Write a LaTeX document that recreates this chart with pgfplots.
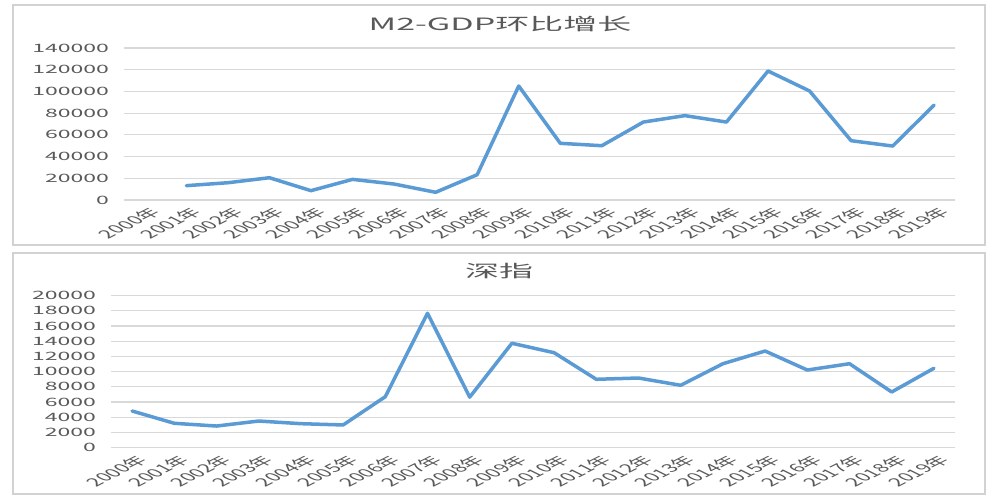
\documentclass[border=0pt]{standalone}
\usepackage{pgfplots}
\pgfplotsset{compat=1.18}
\usepackage{pgfplotstable}
\usepackage{fontspec}
\setmainfont{Noto Sans CJK SC}
\definecolor{serie}{RGB}{91,155,213}
\definecolor{gridc}{RGB}{217,217,217}
\definecolor{txt}{RGB}{89,89,89}
\definecolor{framec}{RGB}{210,210,210}

\pgfplotstableread{
x y
1 13200
2 15900
3 20500
4 8600
5 19000
6 14700
7 7100
8 23300
9 105000
10 52200
11 50000
12 71800
13 77700
14 71800
15 118800
16 100400
17 54600
18 49700
19 87500
}\topdata

\pgfplotstableread{
x y
0 4830
1 3210
2 2850
3 3510
4 3160
5 2990
6 6710
7 17690
8 6650
9 13740
10 12500
11 9000
12 9170
13 8210
14 11050
15 12720
16 10220
17 11050
18 7330
19 10450
}\botdata

\pgfplotsset{
  mystyle/.style={
    scale only axis,
    anchor=south west,
    xmin=-0.5, xmax=19.5,
    xtick={0,...,19},
    xticklabels={2000年,2001年,2002年,2003年,2004年,2005年,2006年,2007年,2008年,2009年,2010年,2011年,2012年,2013年,2014年,2015年,2016年,2017年,2018年,2019年},
    axis line style={draw=none},
    major tick style={draw=none},
    ymajorgrids,
    grid style={gridc, line width=1.2pt},
    scaled y ticks=false,
    yticklabel style={/pgf/number format/.cd, fixed, 1000 sep={}, assume math mode=true, /tikz/.cd,
      txt, font=\fontsize{11.5}{12}\selectfont, xscale=2, anchor=east, xshift=-4pt},
    xticklabel style={txt, font=\fontsize{11.5}{12}\selectfont, xscale=2, rotate=45, anchor=north east, yshift=-2pt},
  }
}

\begin{document}
\begin{tikzpicture}[x=1pt,y=1pt]
\path[fill=white] (0,0) rectangle (1000,500);
\draw[framec, line width=2pt] (13,255) rectangle (985,495);
\draw[framec, line width=2pt] (13,6) rectangle (985,247);
\node[txt, font=\fontsize{17}{20}\selectfont, xscale=2] at (500,476) {M2-GDP环比增长};
\node[txt, font=\fontsize{17}{20}\selectfont, xscale=2] at (499,229) {深指};

\begin{axis}[mystyle, at={(124pt,300pt)}, width=831pt, height=152pt,
  ymin=0, ymax=140000, ytick={0,20000,...,140000}]
\addplot[serie, line width=3.5pt, line join=round, line cap=round] table[x=x,y=y] {\topdata};
\end{axis}

\begin{axis}[mystyle, at={(111pt,52.3pt)}, width=844pt, height=152pt,
  ymin=0, ymax=20000, ytick={0,2000,...,20000}]
\addplot[serie, line width=3.5pt, line join=round, line cap=round] table[x=x,y=y] {\botdata};
\end{axis}
\end{tikzpicture}
\end{document}
